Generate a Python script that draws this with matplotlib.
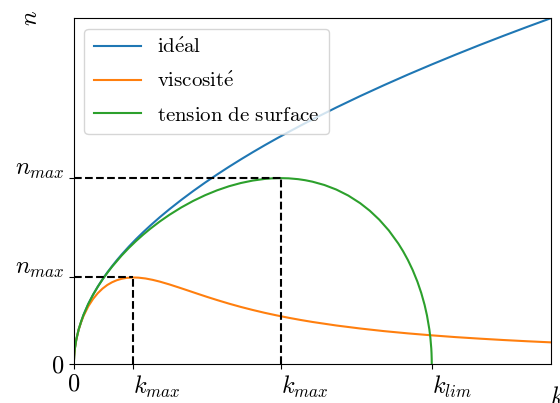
import matplotlib
matplotlib.use("Agg")
import matplotlib.pyplot as plt
from matplotlib.transforms import ScaledTranslation

plt.rcParams['mathtext.fontset'] = 'cm'
plt.rcParams['font.family'] = ['cmr10', 'DejaVu Serif']
plt.rcParams['axes.formatter.use_mathtext'] = True

# ideal
k_ideal = [0, 0.0001, 0.0005, 0.001, 0.002, 0.005, 0.01, 0.02, 0.03, 0.04, 0.05, 0.06, 0.07,
           0.08, 0.09, 0.1, 0.115, 0.13, 0.145, 0.16, 0.18, 0.2, 0.225, 0.25, 0.275, 0.3,
           0.325, 0.35, 0.375, 0.4, 0.425, 0.45, 0.475, 0.5, 0.55, 0.6, 0.65, 0.7, 0.75,
           0.8, 0.85, 0.9, 0.95, 1.0]
n_ideal = [0, 0.01, 0.0224, 0.0316, 0.0447, 0.0707, 0.1, 0.1414, 0.1732, 0.2, 0.2236, 0.2449,
           0.2646, 0.2828, 0.3, 0.3162, 0.3391, 0.3606, 0.3808, 0.4, 0.4243, 0.4472, 0.4743,
           0.5, 0.5244, 0.5477, 0.5701, 0.5916, 0.6124, 0.6325, 0.6519, 0.6708, 0.6892,
           0.7071, 0.7416, 0.7746, 0.8062, 0.8367, 0.8660, 0.8944, 0.9220, 0.9487, 0.9747, 1.0]

# viscosity
k_visc = [0, 0.0001, 0.0005, 0.001, 0.002, 0.005, 0.01, 0.015, 0.02, 0.03, 0.04, 0.05, 0.06,
          0.07, 0.08, 0.09, 0.1, 0.11, 0.124, 0.135, 0.15, 0.165, 0.18, 0.2, 0.22, 0.24,
          0.26, 0.28, 0.3, 0.325, 0.35, 0.375, 0.4, 0.425, 0.45, 0.475, 0.5, 0.55, 0.6,
          0.65, 0.7, 0.75, 0.8, 0.85, 0.9, 0.95, 1.0]
n_visc = [0, 0.01, 0.0224, 0.0316, 0.0447, 0.0705, 0.0992, 0.1207, 0.1383, 0.1662, 0.1876,
          0.2045, 0.2178, 0.2283, 0.2362, 0.2421, 0.2462, 0.2487, 0.2500, 0.2495, 0.2471,
          0.2431, 0.2380, 0.2299, 0.2210, 0.2118, 0.2025, 0.1934, 0.1847, 0.1743, 0.1647,
          0.1559, 0.1477, 0.1403, 0.1334, 0.1271, 0.1213, 0.1111, 0.1024, 0.0948, 0.0883,
          0.0826, 0.0775, 0.0731, 0.0691, 0.0655, 0.0623]

# surface tension
k_tens = [0, 0.0001, 0.0005, 0.001, 0.002, 0.005, 0.01, 0.015, 0.02, 0.03, 0.04, 0.05, 0.06,
          0.07, 0.08, 0.1, 0.115, 0.13, 0.145, 0.16, 0.18, 0.2, 0.225, 0.25, 0.275, 0.3,
          0.325, 0.35, 0.375, 0.4, 0.415, 0.433, 0.45, 0.47, 0.485, 0.5, 0.525, 0.55, 0.575,
          0.6, 0.62, 0.64, 0.66, 0.68, 0.69, 0.7, 0.71, 0.72, 0.728, 0.735, 0.74, 0.745,
          0.747, 0.749, 0.7495, 0.7499, 0.75]
n_tens = [0, 0.01, 0.0224, 0.0316, 0.0447, 0.0707, 0.1000, 0.1224, 0.1414, 0.1731, 0.1997,
          0.2231, 0.2442, 0.2634, 0.2812, 0.3134, 0.3351, 0.3551, 0.3736, 0.3908, 0.4119,
          0.4310, 0.4525, 0.4714, 0.4879, 0.5020, 0.5138, 0.5232, 0.5303, 0.5350, 0.5366,
          0.5373, 0.5367, 0.5343, 0.5312, 0.5270, 0.5174, 0.5042, 0.4869, 0.4648, 0.4431,
          0.4171, 0.3859, 0.3479, 0.3256, 0.3004, 0.2715, 0.2376, 0.2051, 0.1706, 0.1400,
          0.0995, 0.0772, 0.0447, 0.0316, 0.0141, 0]

labels = [r'$\mathrm{id\acute{e}al}$', r'$\mathrm{viscosit\acute{e}}$',
          r'$\mathrm{tension\ de\ surface}$']

k_ticks = [0, 0.124, 0.433, 0.75]
k_tick_labels = ['$0$', '$k_{max}$', '$k_{max}$', '$k_{lim}$']
n_ticks = [0, 0.250, 0.537]
n_tick_labels = ['$0$', '$n_{max}$', '$n_{max}$']

fig = plt.figure(figsize=(5.6, 4.03), dpi=100)
ax = fig.add_axes([0.132, 0.097, 0.852, 0.858])

ax.plot(k_ideal, n_ideal, color='#1f77b4', lw=1.5, label=labels[0])
ax.plot(k_visc, n_visc, color='#ff7f0e', lw=1.5, label=labels[1])
ax.plot(k_tens, n_tens, color='#2ca02c', lw=1.5, label=labels[2])

for kk, nn in [(k_ticks[1], n_ticks[1]), (k_ticks[2], n_ticks[2])]:
    ax.plot([0, kk], [nn, nn], color='black', ls='--', lw=1.5)
    ax.plot([kk, kk], [0, nn], color='black', ls='--', lw=1.5)

ax.set_xlim(0, 1)
ax.set_ylim(0, 1)
ax.set_xticks(k_ticks)
ax.set_xticklabels(k_tick_labels, fontsize=17.5)
ax.set_yticks(n_ticks)
ax.set_yticklabels(n_tick_labels, fontsize=17.5)
for i, lab in enumerate(ax.get_xticklabels()):
    if i > 0:
        lab.set_horizontalalignment('left')
for i, lab in enumerate(ax.get_yticklabels()):
    if i > 0:
        lab.set_verticalalignment('baseline')
        lab.set_transform(lab.get_transform() +
                          ScaledTranslation(0, 0.035, fig.dpi_scale_trans))

ax.set_xlabel('$k$', fontsize=17.5)
ax.xaxis.set_label_coords(0.997, -0.065)
ax.xaxis.label.set_horizontalalignment('left')
ax.set_ylabel('$n$', fontsize=17.5)
ax.yaxis.set_label_coords(-0.066, 1.0)
ax.yaxis.label.set_horizontalalignment('center')

ax.legend(loc='upper left', fontsize=15, handlelength=2.25, labelspacing=0.7,
          borderpad=0.45)

fig.savefig('out.png', dpi=100)
